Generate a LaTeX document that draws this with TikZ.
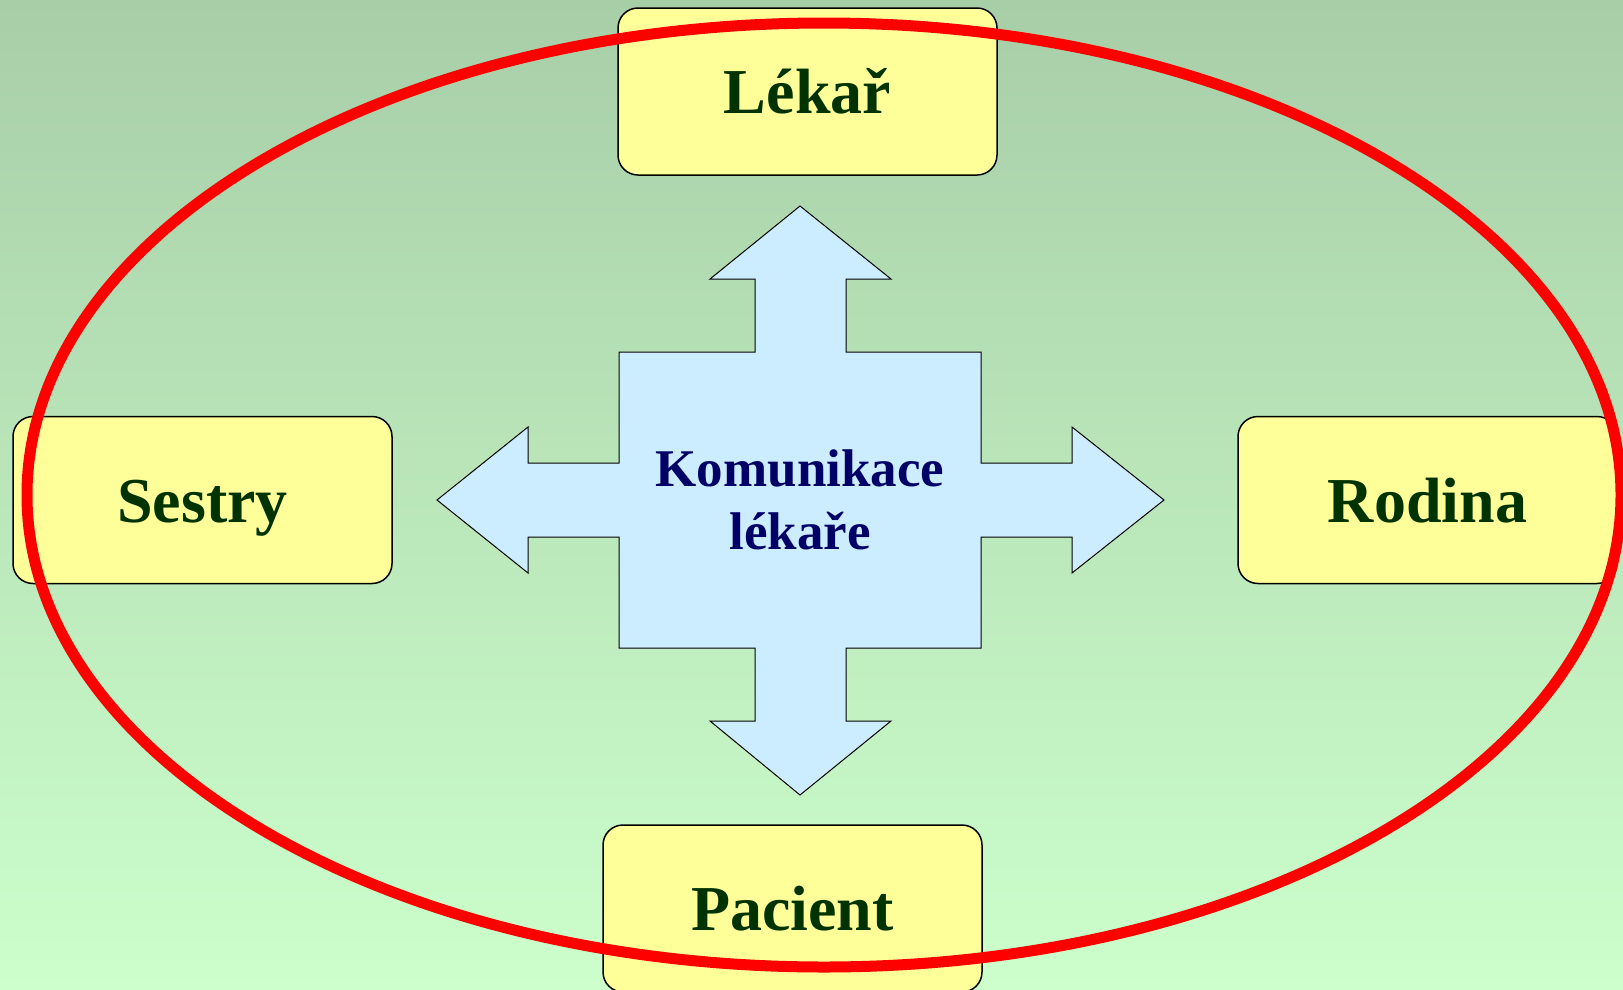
\documentclass[tikz,border=0pt]{standalone}
\usepackage{fontspec}
\setmainfont{Liberation Serif}

\definecolor{bgtop}{HTML}{A8CEA8}
\definecolor{bgbottom}{HTML}{CCFFCC}
\definecolor{boxfill}{HTML}{FFFF99}
\definecolor{boxtext}{HTML}{003300}
\definecolor{arrowfill}{HTML}{CCECFF}
\definecolor{navy}{HTML}{000066}
\definecolor{ring}{HTML}{FF0000}

\begin{document}
\begin{tikzpicture}[x=1pt, y=-1pt]
  % Page area with a soft green top-to-bottom gradient.
  \useasboundingbox (0,0) rectangle (1623,989);
  \shade[top color=bgtop, bottom color=bgbottom] (0,0) rectangle (1623,989);

  % Four-way arrow in the middle.
  \filldraw[fill=arrowfill, draw=black, line width=1pt]
    (800,206) -- (891,279) -- (846,279) -- (846,352) -- (981,352) -- (981,463)
    -- (1072,463) -- (1072,427) -- (1164,500) -- (1072,573) -- (1072,537)
    -- (981,537) -- (981,648) -- (846,648) -- (846,721) -- (891,721)
    -- (800,795) -- (710,721) -- (755,721) -- (755,648) -- (619,648)
    -- (619,537) -- (528,537) -- (528,573) -- (437,500) -- (528,427)
    -- (528,463) -- (619,463) -- (619,352) -- (755,352) -- (755,279)
    -- (710,279) -- cycle;
  \node[font=\bfseries\fontsize{53}{63}\selectfont, text=navy, align=center, inner sep=0pt]
    (komunikace) at (800,500) {Komunikace\\lékaře};

  % The four parties round the centre.
  \tikzset{party/.style={draw=black, line width=1.5pt, fill=boxfill, rounded corners=20pt,
    minimum width=379pt, minimum height=167pt, inner sep=0pt,
    text height=44pt, text depth=0pt, text=boxtext,
    font=\bfseries\fontsize{64}{70}\selectfont}}
  \node[party] (lekar) at (807.5,91.5) {Lékař};
  \node[party] (sestry) at (202.5,500) {Sestry};
  \node[party] (rodina) at (1427.5,500) {Rodina};
  \node[party] (pacient) at (792.5,908.5) {Pacient};

  % Red ring laid over everything.
  \draw[ring, line width=11pt] (824,495) ellipse (797 and 472);
\end{tikzpicture}
\end{document}
